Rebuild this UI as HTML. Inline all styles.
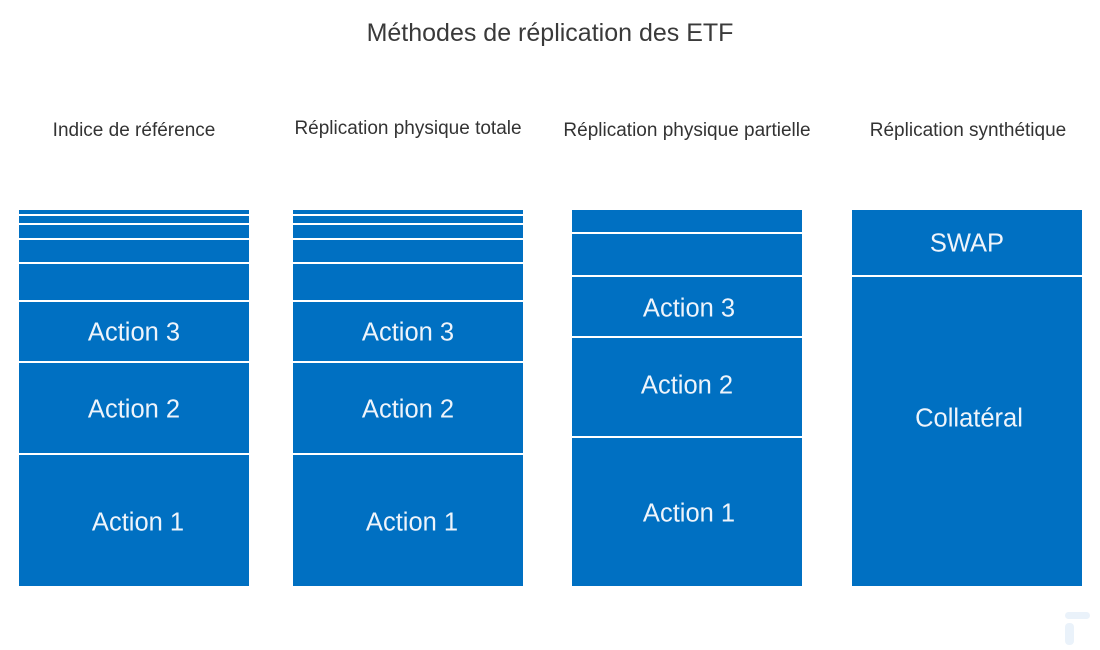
<!DOCTYPE html>
<html><head><meta charset="utf-8"><style>
body{margin:0;width:1100px;height:650px;background:#fff;position:relative;overflow:hidden;font-family:"Liberation Sans",sans-serif}
.t{position:absolute;color:#333;white-space:nowrap;transform:translateX(-50%)}
.b{position:absolute;background:#0070c2}
.g{position:absolute;height:2px;background:#fff}
.l{position:absolute;color:#eef4fb;font-size:25.5px;transform:translate(-50%,-50%);white-space:nowrap}
</style></head><body>
<div class="t" style="left:550px;top:19px;font-size:25px;color:#3a3a3a">Méthodes de réplication des ETF</div>
<div class="t" style="left:134px;top:120px;font-size:19px">Indice de référence</div>
<div class="t" style="left:408px;top:118px;font-size:19px">Réplication physique totale</div>
<div class="t" style="left:687px;top:120px;font-size:19px">Réplication physique partielle</div>
<div class="t" style="left:968px;top:120px;font-size:19px">Réplication synthétique</div>

<div class="b" style="left:19px;top:210px;width:230px;height:376px"></div>
<div class="g" style="left:19px;width:230px;top:214px"></div>
<div class="g" style="left:19px;width:230px;top:223px"></div>
<div class="g" style="left:19px;width:230px;top:238px"></div>
<div class="g" style="left:19px;width:230px;top:262px"></div>
<div class="g" style="left:19px;width:230px;top:300px"></div>
<div class="g" style="left:19px;width:230px;top:361px"></div>
<div class="g" style="left:19px;width:230px;top:453px"></div>
<div class="l" style="left:134px;top:333px">Action 3</div>
<div class="l" style="left:134px;top:410px">Action 2</div>
<div class="l" style="left:138px;top:523px">Action 1</div>

<div class="b" style="left:293px;top:210px;width:230px;height:376px"></div>
<div class="g" style="left:293px;width:230px;top:214px"></div>
<div class="g" style="left:293px;width:230px;top:223px"></div>
<div class="g" style="left:293px;width:230px;top:238px"></div>
<div class="g" style="left:293px;width:230px;top:262px"></div>
<div class="g" style="left:293px;width:230px;top:300px"></div>
<div class="g" style="left:293px;width:230px;top:361px"></div>
<div class="g" style="left:293px;width:230px;top:453px"></div>
<div class="l" style="left:408px;top:333px">Action 3</div>
<div class="l" style="left:408px;top:410px">Action 2</div>
<div class="l" style="left:412px;top:523px">Action 1</div>

<div class="b" style="left:572px;top:210px;width:230px;height:376px"></div>
<div class="g" style="left:572px;width:230px;top:232px"></div>
<div class="g" style="left:572px;width:230px;top:275px"></div>
<div class="g" style="left:572px;width:230px;top:336px"></div>
<div class="g" style="left:572px;width:230px;top:436px"></div>
<div class="l" style="left:689px;top:309px">Action 3</div>
<div class="l" style="left:687px;top:386px">Action 2</div>
<div class="l" style="left:689px;top:514px">Action 1</div>

<div class="b" style="left:852px;top:210px;width:230px;height:376px"></div>
<div class="g" style="left:852px;width:230px;top:275px"></div>
<div class="l" style="left:967px;top:244px">SWAP</div>
<div class="l" style="left:969px;top:419px">Collatéral</div>

<div style="position:absolute;left:1065px;top:612px;width:25px;height:7px;border-radius:4px;background:#eaf2fa"></div>
<div style="position:absolute;left:1065px;top:623px;width:9px;height:22px;border-radius:4px;background:#eaf2fa"></div>
</body></html>
